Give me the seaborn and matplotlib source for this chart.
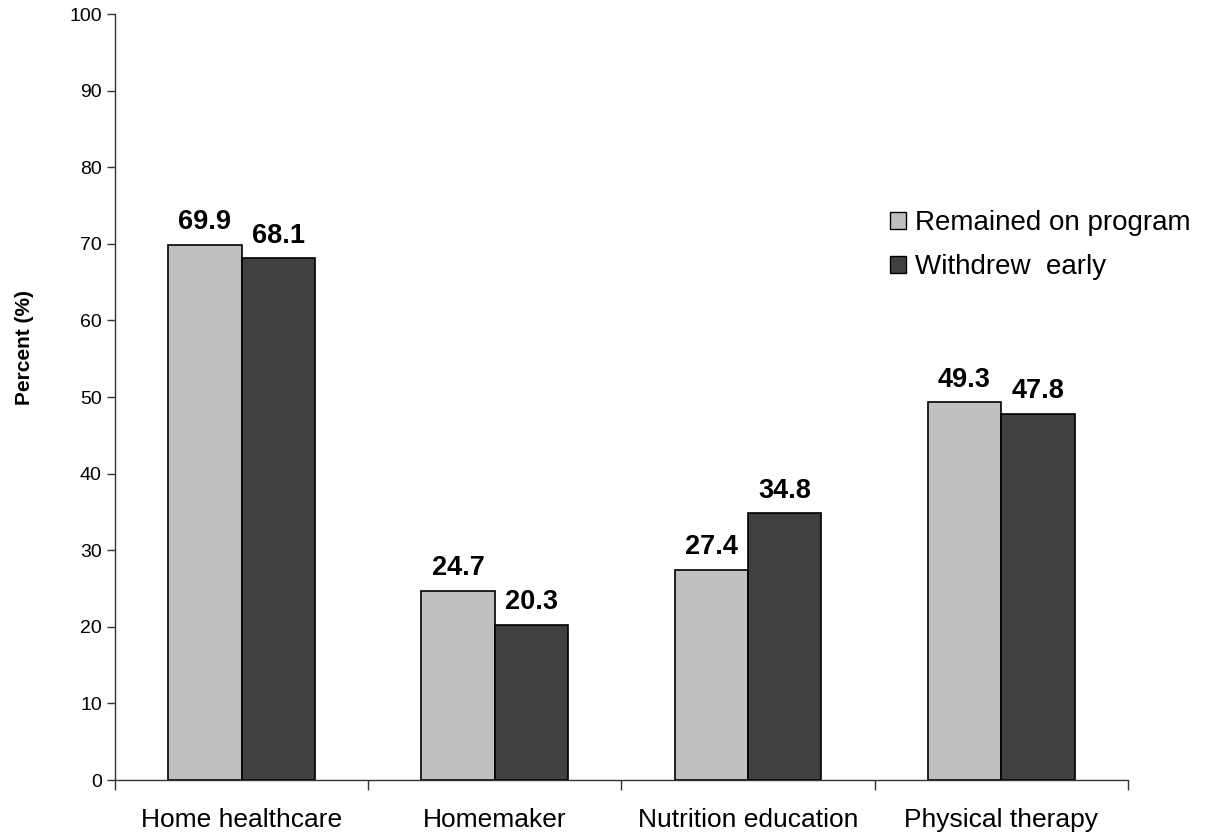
import matplotlib
matplotlib.use("Agg")
import matplotlib.pyplot as plt
import seaborn as sns
import pandas as pd
from matplotlib.ticker import FixedLocator

categories = ["Home healthcare", "Homemaker", "Nutrition education", "Physical therapy"]
series_names = ["Remained on program", "Withdrew  early"]
remained = [69.9, 24.7, 27.4, 49.3]
withdrew = [68.1, 20.3, 34.8, 47.8]
colors = ["#C0C0C0", "#404040"]

df = pd.DataFrame({
    "category": categories * 2,
    "group": [series_names[0]] * 4 + [series_names[1]] * 4,
    "value": remained + withdrew,
})

sns.set_style("white")
plt.rcParams['font.family'] = ['Liberation Sans', 'DejaVu Sans']
plt.rcParams['text.color'] = 'black'
plt.rcParams['axes.labelcolor'] = 'black'
plt.rcParams['xtick.color'] = 'black'
plt.rcParams['ytick.color'] = 'black'

fig = plt.figure(figsize=(12.1, 8.39), dpi=100)
ax = fig.add_axes([0.095, 0.0703, 0.837, 0.913])

sns.barplot(data=df, x="category", y="value", hue="group", order=categories,
            hue_order=series_names, palette=colors, width=0.58, dodge=True,
            edgecolor="black", linewidth=1.2, ax=ax, errorbar=None)

for cont in ax.containers:
    ax.bar_label(cont, fmt="%.1f", padding=7, fontsize=19.5, fontweight="bold",
                 color="black")

ax.set_ylim(0, 100)
ax.set_xlim(-0.5, 3.5)
ax.set_yticks(range(0, 101, 10))
ax.tick_params(axis="y", left=True, labelsize=14, length=6, width=1,
               direction="out", color="#333333", labelcolor="black")
ax.tick_params(axis="x", which="major", bottom=False, length=0, labelsize=19,
               pad=20, labelcolor="black")
ax.xaxis.set_minor_locator(FixedLocator([-0.5, 0.5, 1.5, 2.5, 3.5]))
ax.tick_params(axis="x", which="minor", bottom=True, length=7, width=1,
               direction="out", color="#333333")
ax.set_xlabel("")
ax.set_ylabel("Percent (%)", fontsize=15, fontweight="bold", color="black")
ax.yaxis.set_label_coords(-0.08, 0.565)

for s in ["top", "right"]:
    ax.spines[s].set_visible(False)
for s in ["left", "bottom"]:
    ax.spines[s].set_color("#333333")
    ax.spines[s].set_linewidth(1)

leg = ax.legend(title=None, loc="center left", bbox_to_anchor=(0.765, 0.698),
                frameon=False, fontsize=20, handlelength=0.57, handleheight=0.57,
                handletextpad=0.35, labelspacing=0.65, borderaxespad=0,
                borderpad=0)
for t in leg.get_texts():
    t.set_color("black")
for h in leg.legend_handles:
    h.set_edgecolor("black")
    h.set_linewidth(1)

fig.savefig("out.png", dpi=100)
